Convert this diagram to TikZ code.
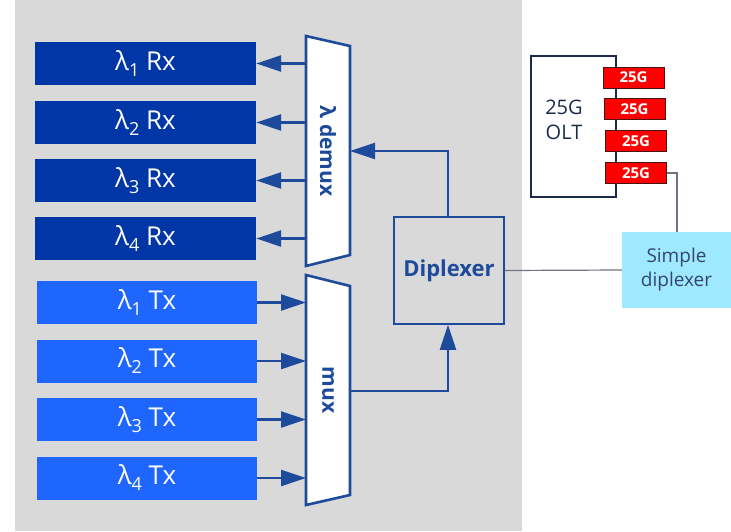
\documentclass[tikz,border=0pt]{standalone}
\usepackage{fontspec}
\setmainfont{Open Sans}
\usetikzlibrary{arrows.meta,calc}
\definecolor{bggray}{HTML}{D9D9D9}
\definecolor{rxblue}{HTML}{0036A5}
\definecolor{txblue}{HTML}{1F66FF}
\definecolor{lineblue}{HTML}{1D4A9B}
\definecolor{olttext}{HTML}{1C2B4A}
\definecolor{simplefill}{HTML}{9EE9FF}
\definecolor{simpletext}{HTML}{34466E}
\definecolor{portred}{HTML}{FF0000}
\definecolor{portedge}{HTML}{4A1414}
\definecolor{graylink}{HTML}{6E7480}
\newcommand{\lamsub}[1]{λ\raisebox{-6pt}{\fontsize{18}{18}\selectfont #1}}
\begin{document}
\begin{tikzpicture}[x=1pt,y=-1pt,
  rxbox/.style={fill=rxblue,draw=none,minimum width=221pt,minimum height=43pt,inner sep=0pt,text=white,font=\fontsize{26}{28}\selectfont},
  txbox/.style={fill=txblue,draw=none,minimum width=220pt,minimum height=43pt,inner sep=0pt,text=white,font=\fontsize{26}{28}\selectfont},
  muxshape/.style={draw=lineblue,fill=white,line width=2.6pt,line join=miter},
  arr/.style={draw=lineblue,line width=2.4pt,-{Triangle[length=25pt,width=16pt]}},
  port/.style={fill=portred,draw=portedge,line width=1pt,minimum width=61pt,minimum height=21pt,inner sep=0pt,text=white,font=\bfseries\fontsize{15}{16}\selectfont},
  link/.style={draw=graylink,line width=1.2pt}
]
\useasboundingbox (0,0) rectangle (731,531);
\fill[bggray] (15,0) rectangle (522,531);

% Rx boxes
\node[rxbox] (rx1) at (145.5,63.5) {\lamsub{1} Rx};
\node[rxbox] (rx2) at (145.5,122.5) {\lamsub{2} Rx};
\node[rxbox] (rx3) at (145.5,180.5) {\lamsub{3} Rx};
\node[rxbox] (rx4) at (145.5,238.5) {\lamsub{4} Rx};
% Tx boxes
\node[txbox] (tx1) at (147,302.5) {\lamsub{1} Tx};
\node[txbox] (tx2) at (147,361) {\lamsub{2} Tx};
\node[txbox] (tx3) at (147,419.5) {\lamsub{3} Tx};
\node[txbox] (tx4) at (147,478) {\lamsub{4} Tx};

% demux and mux trapezoids
\draw[muxshape] (306,36) -- (350,46) -- (350,255) -- (306,266) -- cycle;
\draw[muxshape] (306,275) -- (350,286) -- (350,495) -- (306,505) -- cycle;
\coordinate (dmxL) at (306,151);
\coordinate (dmxR) at (350,151);
\coordinate (muxL) at (306,390);
\coordinate (muxR) at (350,391);
\node[rotate=-90,text=lineblue,font=\bfseries\fontsize{21}{22}\selectfont] (dmxlabel) at (328,151) {λ demux};
\node[rotate=-90,text=lineblue,font=\bfseries\fontsize{21}{22}\selectfont] (muxlabel) at (328,390) {mux};

% arrows demux -> Rx, Tx -> mux
\foreach \i in {1,...,4}{
  \draw[arr] (rx\i.east -| dmxL) -- (rx\i.east);
  \draw[arr] (tx\i.east) -- (tx\i.east -| muxL);
}

% Diplexer
\node[draw=lineblue,fill=bggray,line width=1.6pt,minimum width=110pt,minimum height=107pt,inner sep=0pt,text=lineblue,font=\bfseries\fontsize{22}{24}\selectfont] (dip) at (449,270.5) {Diplexer};
\draw[arr] (dip.north -| 448,0) |- (dmxR);
\draw[arr] (muxR) -| (dip.south -| 448,0);

% OLT
\node[draw=olttext,line width=1.6pt,fill=white,minimum width=85pt,minimum height=141pt,inner sep=0pt] (olt) at (573.5,126.5) {};
\node[text=olttext,align=center,font=\fontsize{20}{25}\selectfont] (oltlabel) at (564,120) {25G\\OLT};
\node[port] (p1) at (633.5,77.5) {25G};
\node[port] (p2) at (634.5,109) {25G};
\node[port] (p3) at (636,141) {25G};
\node[port] (p4) at (636,173) {25G};

% Simple diplexer
\node[fill=simplefill,draw=none,minimum width=109pt,minimum height=76pt,inner sep=0pt,align=center,text=simpletext,font=\fontsize{19}{24}\selectfont] (sdip) at (676.5,270) {Simple\\diplexer};

\draw[link] (dip.east) -- (sdip.west);
\draw[link] (p4.east) -| (sdip.north -| 677,0);
\end{tikzpicture}
\end{document}
